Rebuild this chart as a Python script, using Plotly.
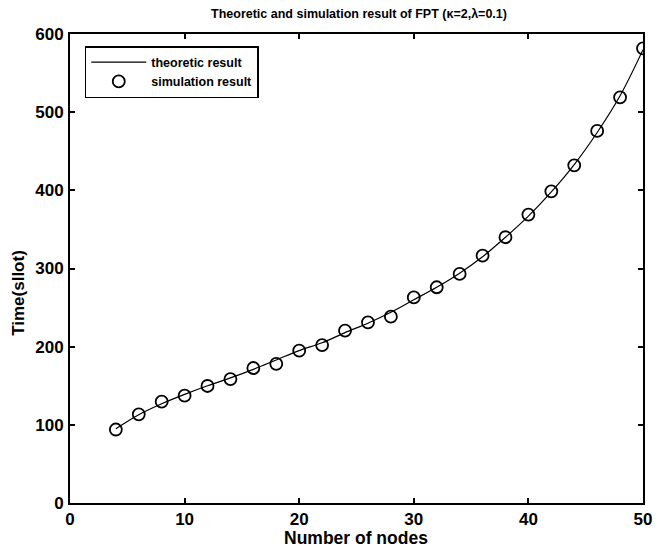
import plotly.graph_objects as go

nodes = [4, 6, 8, 10, 12, 14, 16, 18, 20, 22, 24, 26, 28, 30, 32, 34, 36, 38, 40, 42, 44, 46, 48, 50]
theoretic = [95, 113, 127, 139, 150, 160, 171, 183, 195, 205, 218, 230, 244, 260, 276, 294, 315, 340, 367, 398, 433, 474, 521, 580]
simulation = [94, 113.5, 129.6, 137.3, 149.7, 158.6, 172.7, 178, 194.9, 202, 220.5, 231, 238.4, 263, 276, 293, 316.4, 340, 369, 398.7, 432, 476, 519, 581.7]

x_ticks = [0, 10, 20, 30, 40, 50]
y_ticks = [0, 100, 200, 300, 400, 500, 600]

FONT = "Liberation Sans, Arial, sans-serif"
L, R, T, B = 70, 12, 34, 53
W, H = 664, 556
PW, PH = W - L - R, H - T - B

fig = go.Figure()
fig.add_trace(go.Scatter(
    x=nodes, y=theoretic, mode="lines", name="theoretic result",
    line=dict(color="black", width=1.2, shape="spline"),
))
fig.add_trace(go.Scatter(
    x=nodes, y=simulation, mode="markers", name="simulation result",
    marker=dict(symbol="circle-open", size=12, color="black", line=dict(width=1.8, color="black")),
))

axis_common = dict(
    showline=True, linecolor="black", linewidth=2, mirror="ticks",
    ticks="inside", ticklen=5, tickwidth=1.5, tickcolor="black",
    showgrid=False, zeroline=False,
    tickfont=dict(family=FONT, size=17, color="black", weight="bold"),
)

fig.update_layout(
    width=W, height=H,
    margin=dict(l=L, r=R, t=T, b=B),
    paper_bgcolor="white", plot_bgcolor="white",
    title=dict(
        text="Theoretic and simulation result of FPT (κ=2,λ=0.1)",
        x=359 / W, xanchor="center",
        y=1 - 14 / H, yanchor="middle", yref="container",
        font=dict(family=FONT, size=12.5, color="black", weight="bold"),
    ),
    xaxis=dict(range=[0, 50], tickvals=x_ticks, **axis_common),
    yaxis=dict(range=[0, 600], tickvals=y_ticks, ticklabelstandoff=1, **axis_common),
    legend=dict(
        x=(85 - L) / PW, y=1 - (46 - T) / PH, xanchor="left", yanchor="top",
        bgcolor="white", bordercolor="black", borderwidth=1.5,
        font=dict(family=FONT, size=12.5, color="black", weight="bold"),
        tracegroupgap=0, itemwidth=55,
    ),
    showlegend=True,
    annotations=[
        dict(text="Number of nodes", xref="paper", yref="paper",
             x=(360 - L) / PW, y=(H - B - 538) / PH, xanchor="center", yanchor="middle",
             showarrow=False, font=dict(family=FONT, size=17.5, color="black", weight="bold")),
        dict(text="Time(sllot)", xref="paper", yref="paper", textangle=-90,
             x=(17 - L) / PW, y=(H - B - 293) / PH, xanchor="center", yanchor="middle",
             showarrow=False, font=dict(family=FONT, size=17, color="black", weight="bold")),
    ],
)

fig.write_html("out.html")
